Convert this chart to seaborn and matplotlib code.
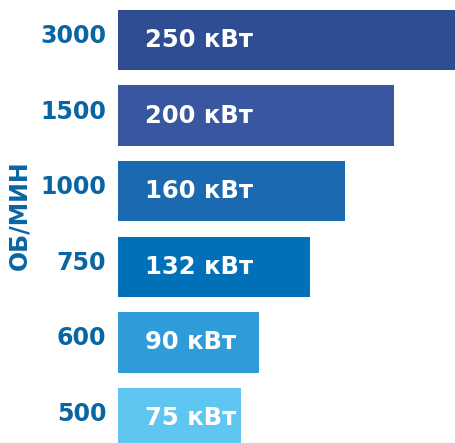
import matplotlib
matplotlib.use("Agg")
import matplotlib.pyplot as plt
import matplotlib.transforms as mtransforms
import seaborn as sns
import pandas as pd

rpm = ["3000", "1500", "1000", "750", "600", "500"]
power_kw = [250, 200, 160, 132, 90, 75]
bar_labels = ["250 кВт", "200 кВт", "160 кВт", "132 кВт", "90 кВт", "75 кВт"]
colors = ["#2E4D93", "#3857A0", "#1B69B1", "#0071B9", "#2F9BD8", "#5FC6F1"]
y_label = "ОБ/МИН"
baseline = -25  # visual baseline of bars (kW)

sns.set_theme(style="white")
plt.rcParams["font.family"] = ["DejaVu Sans"]

df = pd.DataFrame({"rpm": rpm, "kw": power_kw})
df["span"] = df["kw"] - baseline

fig = plt.figure(figsize=(4.55, 4.43), dpi=100)
ax = fig.add_axes([118 / 455, 0, 337 / 455, 1])
sns.barplot(data=df, x="span", y="rpm", hue="rpm", palette=colors, legend=False,
            orient="h", width=0.8, left=baseline, saturation=1, linewidth=0, ax=ax)

ax.set_xlim(baseline, max(power_kw))
ax.set_ylim(5 + 25 / 75.6, -40 / 75.6)
for i, lab in enumerate(bar_labels):
    ax.annotate(lab, xy=(baseline, i), xytext=(27, 0), textcoords="offset pixels",
                ha="left", va="center", color="white", fontsize=17.5, fontweight="bold")

ax.set_xlabel("")
ax.set_ylabel("")
ax.set_xticks([])
ax.tick_params(axis="y", length=0, pad=8.5, labelsize=17, labelcolor="#0A65A3")
shift = mtransforms.ScaledTranslation(0, 4 / 100, fig.dpi_scale_trans)
for t in ax.get_yticklabels():
    t.set_fontweight("bold")
    t.set_va("center")
    t.set_transform(t.get_transform() + shift)
for s in ax.spines.values():
    s.set_visible(False)

fig.text(19 / 455, 1 - 215 / 443, y_label, rotation=90, ha="center", va="center",
         color="#0A65A3", fontsize=17, fontweight="bold")

fig.savefig("out.png", dpi=100)
